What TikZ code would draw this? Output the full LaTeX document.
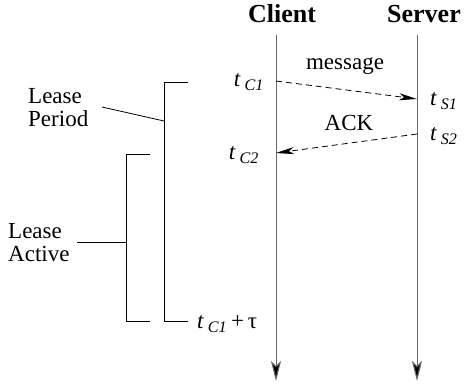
\documentclass[tikz,border=0pt]{standalone}
\usepackage{fontspec}
\setmainfont{Liberation Serif}
\usetikzlibrary{arrows.meta}
\newcommand{\tsub}[1]{\textit{t}\,\textsubscript{\textit{#1}}}
\begin{document}
\begin{tikzpicture}[x=1pt, y=-1pt,
        lbl/.style={font=\fontsize{23}{23}\selectfont, inner sep=0pt},
        title/.style={font=\fontsize{26}{28}\selectfont\bfseries, inner sep=0pt},
        timeline/.style={draw=black!60, line width=1pt, -{Stealth[length=20pt, width=10pt, inset=5pt, fill=black]}},
        msg/.style={dash pattern=on 6pt off 4pt, line width=0.8pt, -{Stealth[length=18pt, width=7pt, inset=5pt]}},
        bracket/.style={line width=0.8pt}]
        \useasboundingbox (0,0) rectangle (466,386);
        % time lines
        \node[title] (client) at (282,14) {Client};
        \node[title] (server) at (424,14) {Server};
        \coordinate (ctop) at (276,35);
        \coordinate (cbot) at (276,381);
        \coordinate (stop) at (417,35);
        \coordinate (sbot) at (417,381);
        \draw[timeline] (ctop) -- (cbot);
        \draw[timeline] (stop) -- (sbot);
        % messages
        \coordinate (c1) at (276,81);
        \coordinate (s1) at (417,99);
        \coordinate (s2) at (417,134);
        \coordinate (c2) at (276,153);
        \draw[msg] (c1) -- (s1);
        \draw[msg] (s2) -- (c2);
        \node[lbl] (message) at (345,66) {message};
        \node[lbl] (ack) at (349,123) {ACK};
        \node[lbl, anchor=east] (tc1) at (264,82) {\tsub{C1}};
        \node[lbl, anchor=east] (tc2) at (259,155) {\tsub{C2}};
        \node[lbl, anchor=west] (ts1) at (430,101) {\tsub{S1}};
        \node[lbl, anchor=west] (ts2) at (430,136) {\tsub{S2}};
        \node[lbl, anchor=west] (tend) at (197,324) {\tsub{C1}\,+\,τ};
        % lease brackets
        \coordinate (pTop) at (188,82);
        \coordinate (pBot) at (188,321);
        \coordinate (pMid) at (164,121);
        \draw[bracket] (pTop) -- (164,82) -- (164,321) -- (pBot);
        \coordinate (aTop) at (150,154);
        \coordinate (aBot) at (150,321);
        \coordinate (aMid) at (126,242);
        \draw[bracket] (aTop) -- (126,154) -- (126,321) -- (aBot);
        \node[lbl, anchor=west, align=left] (period) at (28,108) {Lease\\Period};
        \node[lbl, anchor=west, align=left] (active) at (8,243) {Lease\\Active};
        \coordinate (pLead) at (102,107);
        \coordinate (aLead) at (77,242);
        \draw[bracket] (pLead) -- (pMid);
        \draw[bracket] (aLead) -- (aMid);
\end{tikzpicture}
\end{document}
